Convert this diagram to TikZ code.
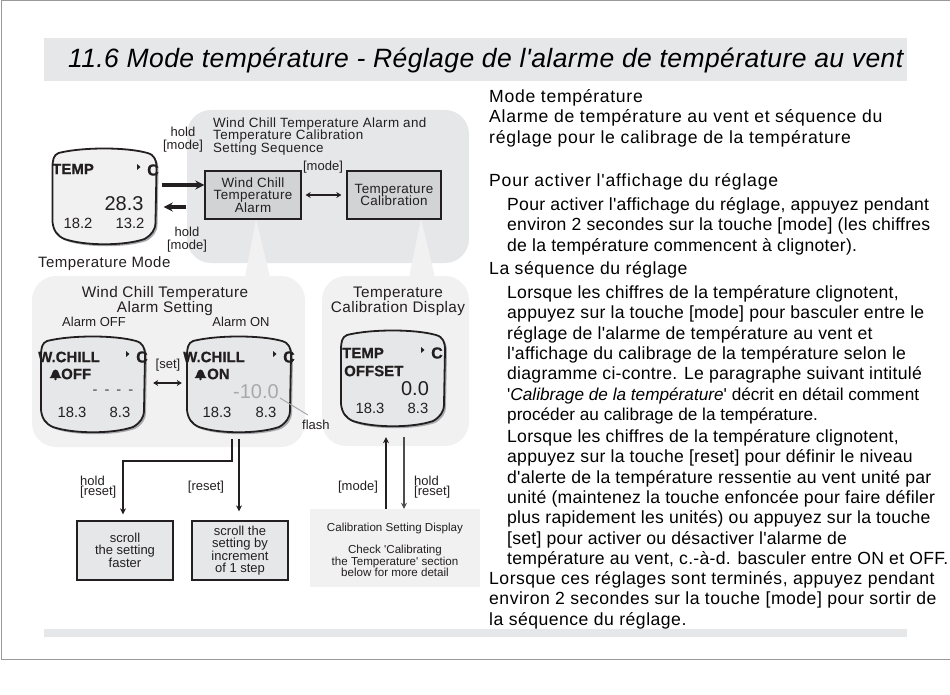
\documentclass[tikz,border=0pt]{standalone}
\usepackage{fontspec}
\setmainfont[Ligatures=TeXOff]{Liberation Sans}
\usepackage{xcolor}
\usetikzlibrary{arrows.meta,positioning}
\definecolor{wcpanel}{HTML}{E6E7E8}
\definecolor{wcpale}{HTML}{F1F1F2}
\definecolor{wcbox}{HTML}{D1D3D4}
\definecolor{wcline}{HTML}{231F20}
\definecolor{wcflash}{HTML}{A7A9AC}
\definecolor{wcframe}{HTML}{9A9A9A}

\newcommand{\ls}[2]{{\fontsize{17.2}{20.3}\selectfont\addfontfeature{LetterSpace=#1}#2}}
\newcommand{\wcoutline}{(-46,-43) .. controls (-22,-49) and (22,-49) .. (43,-43) .. controls (50,-41) and (52,-36) .. (52,-28) -- (51,26) .. controls (51,34) and (47,39) .. (40,43) .. controls (20,50) and (-20,50) .. (-40,43) .. controls (-47,40) and (-51,35) .. (-52,26) -- (-52,-28) .. controls (-52,-36) and (-51,-41) .. (-46,-43) -- cycle}
% one watch: name, centre x, centre y, face colour
\newcommand{\wcwatch}[4]{
  \node[minimum width=104pt, minimum height=96pt, inner sep=0pt] (#1) at (#2,#3) {};
  \begin{scope}[shift={(#2,#3)}]
    \fill[wcflash, shift={(2,2)}] \wcoutline;
    \draw[line width=1.8pt, draw=wcline, fill=#4] \wcoutline;
  \end{scope}
}
% unit mark of a watch: name, x of the C, y of the C
\newcommand{\wcunit}[3]{
  \fill[wcline] (#2-16,#3-6) -- (#2-12.5,#3-3) -- (#2-16,#3) -- cycle;
  \node[lcdb, font=\fontsize{16}{16}\selectfont\bfseries\addfontfeature{FakeBold=0.6}] (#1) at (#2,#3) {C};
}
% small bell: x, y
\newcommand{\wcbell}[2]{
  \fill[wcline] (#1-6,#2+3.5) .. controls (#1-3,#2+2) and (#1-4,#2-5) .. (#1,#2-5) .. controls (#1+4,#2-5) and (#1+3,#2+2) .. (#1+6,#2+3.5) -- cycle;
  \fill[wcline] (#1,#2+4.5) circle (1.3pt);
}

\begin{document}
\begin{tikzpicture}[x=1pt, y=-1pt,
  lbl/.style={inner sep=0pt, align=center, text=wcline, font=\fontsize{13}{13}\selectfont},
  bigl/.style={inner sep=0pt, align=center, text=wcline, font=\fontsize{15.3}{15.5}\selectfont\addfontfeature{LetterSpace=2.5}},
  lcdb/.style={inner sep=0pt, text=wcline, font=\fontsize{15}{15}\selectfont\bfseries\addfontfeature{FakeBold=0.6}},
  lcdn/.style={inner sep=0pt, text=wcline, font=\fontsize{14.8}{14.8}\selectfont},
  lcdv/.style={inner sep=0pt, text=wcline, font=\fontsize{20}{20}\selectfont},
  para/.style={anchor=north west, inner sep=0pt, align=left, text=black, font=\fontsize{17.6}{20.3}\selectfont\addfontfeature{LetterSpace=1.5}},
  panel/.style={rounded corners=24pt, inner sep=0pt},
  setbox/.style={draw=wcline, line width=1.3pt, inner sep=0pt, align=center, text=wcline},
  arr/.style={-{Stealth[length=6pt, width=6pt]}, line width=1.3pt, wcline},
  fatarr/.style={-{Stealth[length=9pt, width=9pt]}, line width=3.5pt, wcline},
  bothw/.style={{Stealth[length=5pt, width=6pt]}-{Stealth[length=5pt, width=6pt]}, line width=1.8pt, wcline},
]
\useasboundingbox (0,0) rectangle (950,695);
% page frame and bands
\draw[wcframe, line width=1pt] (950,1) -- (1,1) -- (1,659) -- (950,659);
\node[fill=wcpanel, inner sep=0pt, minimum width=863pt, minimum height=43pt] (titleband) at (475.5,59.5) {};
\node[anchor=west, inner sep=0pt, font=\fontsize{26.5}{27}\selectfont\itshape\addfontfeature{LetterSpace=1.5}] (title) at (68,60) {11.6 Mode température - Réglage de l'alarme de température au vent};
\node[fill=wcpanel, inner sep=0pt, minimum width=863pt, minimum height=8pt] (footband) at (475.5,633) {};

% grey panels and their callouts
\node[panel, fill=wcpanel, minimum width=282pt, minimum height=153pt] (seqpanel) at (328,186.5) {};
\fill[wcpale] (256,219) -- (245,277) -- (270,277) -- cycle;
\fill[wcpale] (421,219) -- (409,277) -- (435,277) -- cycle;
\node[panel, fill=wcpale, minimum width=273pt, minimum height=171pt] (windpanel) at (168.5,361.5) {};
\node[panel, fill=wcpale, minimum width=147pt, minimum height=170pt] (calpanel) at (395.5,361) {};

% setting sequence
\node[lbl, anchor=west, align=left, font=\fontsize{13.4}{12.5}\selectfont\addfontfeature{LetterSpace=2.5}] (seqtitle) at (213,136.5) {Wind Chill Temperature Alarm and\\Temperature Calibration\\Setting Sequence};
\node[setbox, fill=wcbox, minimum width=96pt, minimum height=48pt, font=\fontsize{13.4}{12.5}\selectfont\addfontfeature{LetterSpace=2.5}] (alarmbox) at (253,195) {Wind Chill\\Temperature\\Alarm};
\node[setbox, fill=wcbox, minimum width=94pt, minimum height=48pt, font=\fontsize{13.4}{12.5}\selectfont\addfontfeature{LetterSpace=2.5}] (calbox) at (394,195) {Temperature\\Calibration};
\node[lbl] (modelbl) at (323,167) {[mode]};
\draw[bothw, shorten <=4pt, shorten >=5pt] (alarmbox) -- (calbox);

% temperature mode watch
\wcwatch{tempw}{104.5}{196}{wcpale}
\node[lcdb, anchor=west] (temptxt) at (52,169) {TEMP};
\wcunit{tempc}{153}{170}
\node[lcdv] (tempval) at (124,204) {28.3};
\node[lcdn] (templ) at (78,223) {18.2};
\node[lcdn] (tempr) at (130,223) {13.2};
\node[bigl, anchor=west, font=\fontsize{15}{15}\selectfont\addfontfeature{LetterSpace=3}] (tempname) at (38,264) {Temperature Mode};
\node[lbl] (holdup) at (183,139.5) {hold\\{}[mode]};
\node[lbl] (holddown) at (187,239.5) {hold\\{}[mode]};
\draw[fatarr] ([shift={(5,-11)}]tempw.east) -- ([shift={(0,-10)}]alarmbox.west);
\draw[fatarr] ([shift={(-18,12)}]alarmbox.west) -- ([shift={(7,11)}]tempw.east);

% wind chill alarm setting
\node[bigl] (windtitle) at (165,301) {Wind Chill Temperature\\Alarm Setting};
\node[lbl] (offlbl) at (94,322) {Alarm OFF};
\node[lbl] (onlbl) at (241,322) {Alarm ON};
\wcwatch{offw}{93}{384}{wcpanel}
\node[lcdb, anchor=west] (offtxt) at (38,357) {W.CHILL};
\wcunit{offc}{142}{357}
\wcbell{55.5}{374.5}
\node[lcdb, anchor=west] (offstate) at (61,374) {OFF};
\node[lcdn, text=wcline!85] (offval) at (113,392) {-\hspace{7pt}-\hspace{7pt}-\hspace{7pt}-};
\node[lcdn] (offl) at (72,412) {18.3};
\node[lcdn] (offr) at (120,412) {8.3};
\wcwatch{onw}{239}{384}{wcpanel}
\node[lcdb, anchor=west] (ontxt) at (183,357) {W.CHILL};
\wcunit{onc}{289}{357}
\wcbell{200.5}{374.5}
\node[lcdb, anchor=west] (onstate) at (207,374) {ON};
\node[lcdv, text=wcflash] (onval) at (256,392) {-10.0};
\node[lcdn] (onl) at (217,412) {18.3};
\node[lcdn] (onr) at (266,412) {8.3};
\node[lbl] (setlbl) at (168,365) {[set]};
\node[lbl, anchor=west] (flashlbl) at (302,425) {flash};
\draw[bothw] ([shift={(8,-1)}]offw.east) -- ([shift={(-5,-1)}]onw.west);
\draw[wcflash, line width=1pt] ([shift={(1,6)}]onval.east) -- ([shift={(-8,-5)}]flashlbl.north);

% calibration display
\node[bigl] (caltitle) at (398,301.5) {Temperature\\Calibration Display};
\wcwatch{calw}{393}{378}{wcpanel}
\node[lcdb, anchor=west] (caltxt) at (342,353) {TEMP};
\wcunit{calc}{437}{353}
\node[lcdb, anchor=west] (caloff) at (344,371) {OFFSET};
\node[lcdv] (calval) at (415,389) {0.0};
\node[lcdn] (call) at (370,408) {18.3};
\node[lcdn] (calr) at (418,408) {8.3};

% lower boxes
\node[setbox, fill=wcpanel, minimum width=96pt, minimum height=59pt, font=\fontsize{13}{12}\selectfont] (fastbox) at (125,550.5) {scroll\\the setting\\faster};
\node[setbox, fill=wcpanel, minimum width=96pt, minimum height=59pt, font=\fontsize{13}{11.7}\selectfont] (stepbox) at (240,550.5) {scroll the\\setting by\\increment\\of 1 step};
\node[fill=wcpale, inner sep=0pt, minimum width=170pt, minimum height=78pt] (detailbox) at (395,548) {};
\node[inner sep=0pt, align=center, text=wcline, font=\fontsize{11.6}{11.7}\selectfont] (detailtxt) at (395,550) {Calibration Setting Display\\[10pt]Check 'Calibrating\\the Temperature' section\\below for more detail};
\node[lbl, anchor=west, align=left, font=\fontsize{13}{10}\selectfont] (holdl) at (80,487) {hold\\{}[reset]};
\node[lbl] (resetl) at (206,487) {[reset]};
\node[lbl] (modell) at (358,487) {[mode]};
\node[lbl, anchor=west, align=left, font=\fontsize{13}{10}\selectfont] (holdr) at (414,487) {hold\\{}[reset]};
\coordinate (resetbend) at (150,461);
\coordinate (calup) at ([shift={(-7,11)}]calw.south);
\coordinate (caldown) at ([shift={(11,11)}]calw.south);
\draw[arr, shorten >=6pt] ([shift={(-7,7)}]onw.south) |- (resetbend) -| ([shift={(-2,0)}]fastbox.north);
\draw[arr, shorten >=9pt] ([shift={(0,7)}]onw.south) -- ([shift={(-1,0)}]stepbox.north);
\draw[arr] (detailbox.north -| calup) -- (calup);
\draw[arr, wcline!80] (caldown) -- (detailbox.north -| caldown);

% french text
\node[para, font=\fontsize{17.6}{20.3}\selectfont\addfontfeature{LetterSpace=4}] (pmode) at (489,89.5) {Mode température\\Alarme de température au vent et séquence du\\réglage pour le calibrage de la température};
\node[para, font=\fontsize{17.6}{20.3}\selectfont\addfontfeature{LetterSpace=4.5}] (pact) at (489,173.5) {Pour activer l'affichage du réglage};
\node[para] (pacttxt) at (507,197.5) {Pour activer l'affichage du réglage, appuyez pendant\\environ 2 secondes sur la touche [mode] (les chiffres\\de la température commencent à clignoter).};
\node[para, font=\fontsize{17.6}{20.3}\selectfont\addfontfeature{LetterSpace=3}] (pseq) at (489,261.5) {La séquence du réglage};
\node[para] (pseqa) at (507,285.5) {Lorsque les chiffres de la température clignotent,\\appuyez sur la touche [mode] pour basculer entre le\\réglage de l'alarme de température au vent et\\l'affichage du calibrage de la température selon le\\diagramme ci-contre. Le paragraphe suivant intitulé\\\ls{0}{'\textit{Calibrage de la température}' décrit en détail comment}\\\ls{0}{procéder au calibrage de la température.}};
\node[para] (pseqb) at (507,429.5) {Lorsque les chiffres de la température clignotent,\\appuyez sur la touche [reset] pour définir le niveau\\d'alerte de la température ressentie au vent unité par\\unité (maintenez la touche enfoncée pour faire défiler\\plus rapidement les unités) ou appuyez sur la touche\\{}[set] pour activer ou désactiver l'alarme de\\température au vent, c.-à-d. basculer entre ON et OFF.};
\node[para, font=\fontsize{17.6}{20.3}\selectfont\addfontfeature{LetterSpace=2.8}] (pend) at (489,571.5) {Lorsque ces réglages sont terminés, appuyez pendant\\environ 2 secondes sur la touche [mode] pour sortir de\\la séquence du réglage.};
\end{tikzpicture}
\end{document}
